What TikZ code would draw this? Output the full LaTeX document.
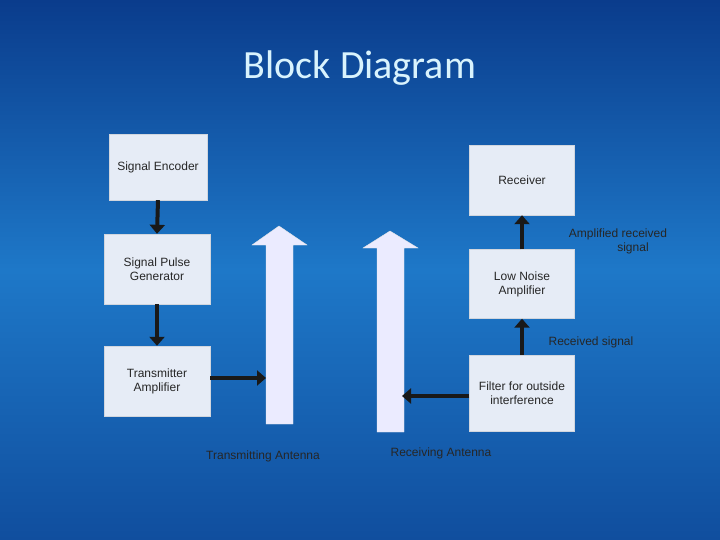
\documentclass[tikz,border=0pt]{standalone}
\usepackage{fontspec}
\setmainfont{Liberation Sans}
\newfontfamily\titlefont{Carlito}
\usetikzlibrary{arrows.meta,shadings}
\definecolor{bgdark}{HTML}{0A3C8C}
\definecolor{bglight}{HTML}{1E78C8}
\definecolor{boxfill}{HTML}{E6ECF6}
\tikzset{
  blk/.style={draw=boxfill!80!gray,fill=boxfill,minimum width=#1,align=center,font=\fontsize{12}{14}\selectfont,text=black!85},
  conn/.style={line width=4pt,-{Triangle[length=9pt,width=15pt]},black!90},
  lbl/.style={font=\fontsize{12}{14}\selectfont,text=black!85,align=center},
  ant/.style={fill=white!92!blue,draw=white!80!gray}
}
\begin{document}
\begin{tikzpicture}[x=1pt,y=-1pt]
\useasboundingbox (0,0) rectangle (720,540);
\shade[top color=bgdark,bottom color=bgdark!70!bglight,middle color=bglight] (0,0) rectangle (720,540);
\node[font=\titlefont\fontsize{40}{44}\selectfont,text=white!85!cyan] (title) at (360,68) {Block Diagram};
\node[blk=98pt,minimum height=66pt] (enc) at (158,167) {Signal Encoder};
\node[blk=106pt,minimum height=70pt] (pulse) at (157,269) {Signal Pulse\\Generator};
\node[blk=106pt,minimum height=70pt] (tx) at (157,381) {Transmitter\\Amplifier};
\node[blk=105pt,minimum height=70pt] (rcv) at (522,180) {Receiver};
\node[blk=105pt,minimum height=69pt] (lna) at (522,284) {Low Noise\\Amplifier};
\node[blk=105pt,minimum height=76pt] (filt) at (522,393) {Filter for outside\\interference};
% antennas
\path[ant] (266,424) -- (266,245) -- (252,245) -- (279,226) -- (307,245) -- (293,245) -- (293,424) -- cycle;
\path[ant] (377,432) -- (377,248) -- (363,248) -- (390,231) -- (418,248) -- (404,248) -- (404,432) -- cycle;
\coordinate (txant) at (266,378);
\coordinate (rxant) at (402,396);
\draw[conn] (enc.south) -- (pulse.north);
\draw[conn] (pulse.south) -- (tx.north);
\draw[conn] (tx.east |- txant) -- (txant);
\draw[conn] (filt.west |- rxant) -- (rxant);
\draw[conn] (filt.north) -- (lna.south);
\draw[conn] (lna.north) -- (rcv.south);
\node[lbl] (tl) at (263,456) {Transmitting Antenna};
\node[lbl] (rl) at (441,453) {Receiving Antenna};
\node[lbl] (al) at (618,241) {Amplified received\\\hspace*{30pt}signal};
\node[lbl] (rs) at (591,342) {Received signal};
\end{tikzpicture}
\end{document}
